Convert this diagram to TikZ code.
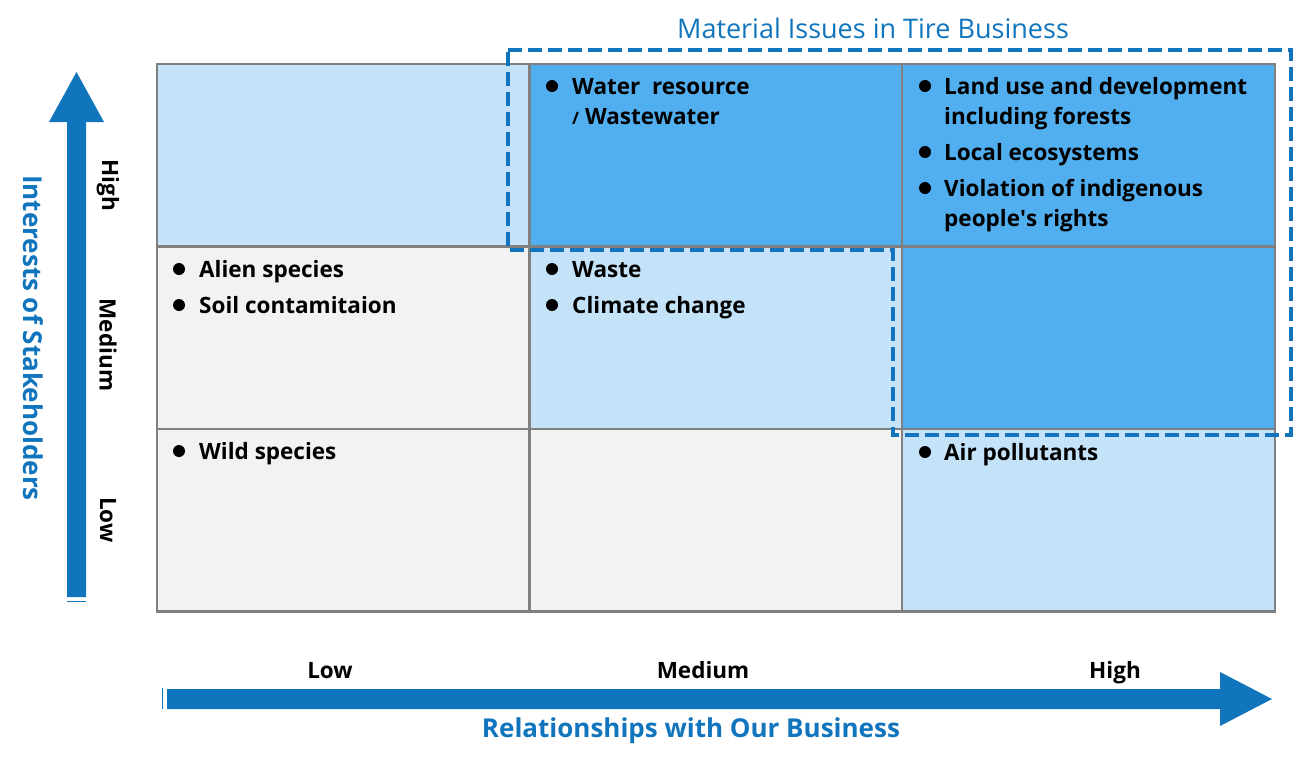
\documentclass[tikz,border=0pt]{standalone}
\usepackage{fontspec}
\setmainfont{Open Sans}
\newcommand\semib{\bfseries}
\definecolor{lightb}{HTML}{C5E3F8}
\definecolor{midb}{HTML}{52AFEF}
\definecolor{grayc}{HTML}{F2F2F2}
\definecolor{gridc}{HTML}{808080}
\definecolor{arrb}{HTML}{1075BD}
\tikzset{
  cell/.style={draw=gridc,line width=2.5pt,minimum width=373pt,minimum height=182.5pt,inner sep=0pt,outer sep=0pt},
  item/.style={anchor=base west,inner sep=0pt,font=\semib\fontsize{22.5}{29}\selectfont},
  dot/.style={circle,fill=black,minimum size=12pt,inner sep=0pt},
  axl/.style={inner sep=0pt,font=\semib\fontsize{22.5}{26}\selectfont},
  bluet/.style={inner sep=0pt,text=arrb},
  dashbox/.style={draw=arrb,line width=4pt,dash pattern=on 14pt off 6pt},
}
\begin{document}
\begin{tikzpicture}[x=1pt,y=-1pt]
\useasboundingbox (0,0) rectangle (1296,764);
% cells
\node[cell,fill=lightb,anchor=north west] (c11) at (157,64) {};
\node[cell,fill=midb,anchor=north west] (c12) at (529.5,64) {};
\node[cell,fill=midb,anchor=north west] (c13) at (902,64) {};
\node[cell,fill=grayc,anchor=north west] (c21) at (157,246.5) {};
\node[cell,fill=lightb,anchor=north west] (c22) at (529.5,246.5) {};
\node[cell,fill=midb,anchor=north west] (c23) at (902,246.5) {};
\node[cell,fill=grayc,anchor=north west] (c31) at (157,429) {};
\node[cell,fill=grayc,anchor=north west] (c32) at (529.5,429) {};
\node[cell,fill=lightb,anchor=north west] (c33) at (902,429) {};
% dashed outline
\draw[dashbox] (508,50) -- (1291,50) -- (1291,435) -- (893,435) -- (893,250) -- (508,250) -- cycle;
\node[bluet,font=\fontsize{27}{30}\selectfont] (title) at (873,28) {Material Issues in Tire Business};
% items
\node[dot] (b1) at (552,86) {};
\node[item] (t1) at (572,94) {Water\ \ resource};
\node[item] (t1b) at (572,124) {{\fontsize{17}{20}\selectfont/} Wastewater};
\node[dot] (b2) at (925,86) {};
\node[item] (t2) at (944,94) {Land use and development};
\node[item] (t2b) at (944,124) {including forests};
\node[dot] (b3) at (925,152) {};
\node[item] (t3) at (944,160) {Local ecosystems};
\node[dot] (b4) at (925,188) {};
\node[item] (t4) at (944,196) {Violation of indigenous};
\node[item] (t4b) at (944,226) {people\textquotesingle s rights};
\node[dot] (b5) at (179,269) {};
\node[item] (t5) at (199,277) {Alien species};
\node[dot] (b6) at (179,305) {};
\node[item] (t6) at (199,313) {Soil contamitaion};
\node[dot] (b7) at (552,269) {};
\node[item] (t7) at (572,277) {Waste};
\node[dot] (b8) at (552,305) {};
\node[item] (t8) at (572,313) {Climate change};
\node[dot] (b9) at (179,451) {};
\node[item] (t9) at (199,459) {Wild species};
\node[dot] (b10) at (925,452) {};
\node[item] (t10) at (944,460) {Air pollutants};
% vertical arrow
\fill[arrb] (67,597) -- (67,122) -- (49,122) -- (76.5,72) -- (104,122) -- (86,122) -- (86,597) -- cycle;
\draw[arrb,line width=1pt] (67,601.5) -- (86,601.5);
\node[axl,rotate=-90] (vh) at (108,185) {High};
\node[axl,rotate=-90] (vm) at (108,345) {Medium};
\node[axl,rotate=-90] (vl) at (108,520) {Low};
\node[bluet,rotate=-90,font=\semib\fontsize{26}{30}\selectfont] (ylab) at (33,338) {Interests of Stakeholders};
% horizontal arrow
\fill[arrb] (167,689) -- (1220,689) -- (1220,672) -- (1272,699) -- (1220,726) -- (1220,709) -- (167,709) -- cycle;
\draw[arrb,line width=1pt] (162.5,688) -- (162.5,709);
\node[axl,anchor=base] (hl) at (330,678) {Low};
\node[axl,anchor=base] (hm) at (703,678) {Medium};
\node[axl,anchor=base] (hh) at (1115,678) {High};
\node[bluet,font=\semib\fontsize{26}{30}\selectfont] (xlab) at (691,731) {Relationships with Our Business};
\end{tikzpicture}
\end{document}
